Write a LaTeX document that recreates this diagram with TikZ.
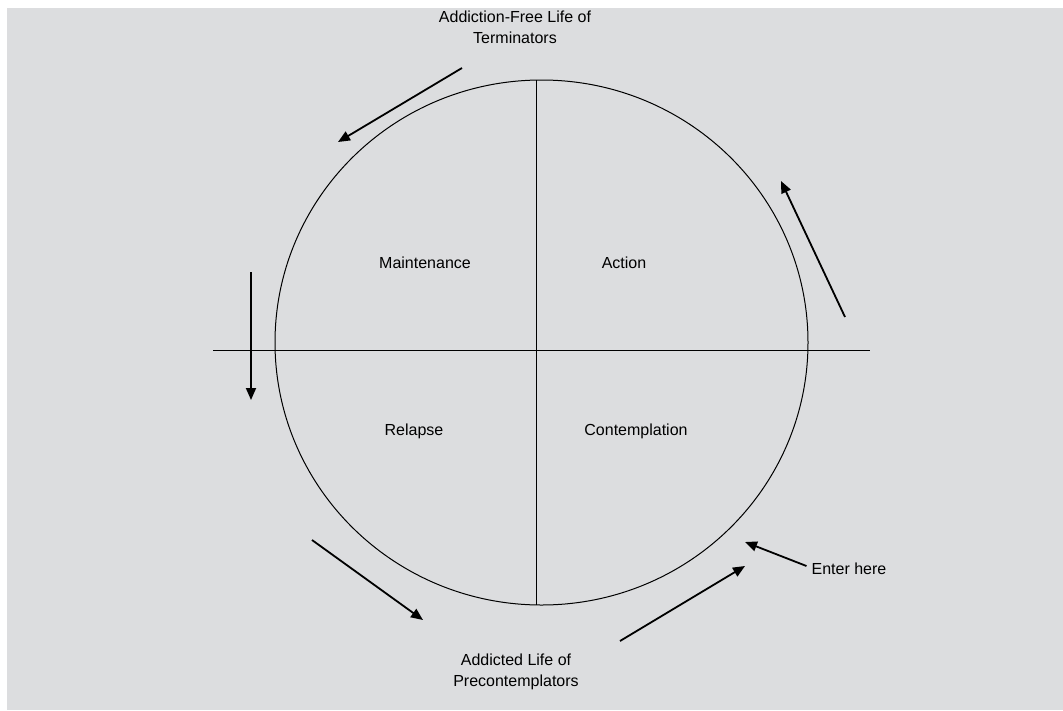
\documentclass[tikz,border=0pt]{standalone}
\usepackage{fontspec}
\setmainfont{Liberation Sans}
\usetikzlibrary{arrows.meta}
\definecolor{panel}{HTML}{DCDDDF}
\tikzset{
	lbl/.style={font=\fontsize{16}{21}\selectfont, align=center, inner sep=0pt},
	cyc/.style={line width=1.8pt, -{Triangle[length=12pt,width=10pt]}},
}
\begin{document}
\begin{tikzpicture}[x=1pt, y=-1pt]
	\useasboundingbox (0, 0) rectangle (1063, 710);
	\fill[white] (0, 0) rectangle (1063, 710);
	\fill[panel] (7, 8) rectangle (1063, 710);

	% wheel and axes
	\draw[line width=1pt] (541.5, 342.5) ellipse [x radius=266.5, y radius=262.5];
	\coordinate (hl) at (213, 350);
	\coordinate (hr) at (870, 350);
	\coordinate (vt) at (536, 80);
	\coordinate (vb) at (536, 605);
	\draw[line width=1pt] (hl) -- (hr);
	\draw[line width=1pt] (vt) -- (vb);

	% stages
	\draw node[lbl] at (425, 263) (maint) {Maintenance};
	\draw node[lbl] at (624, 263) (action) {Action};
	\draw node[lbl] at (414, 431) (relapse) {Relapse};
	\draw node[lbl] at (636, 431) (contemp) {Contemplation};
	\draw node[lbl] at (515, 27) (free) {Addiction-Free Life of\\Terminators};
	\draw node[lbl] at (516, 672) (addict) {Addicted Life of\\Precontemplators};
	\draw node[lbl] at (849, 569) (enter) {Enter here};

	% arrow ends
	\coordinate (a1s) at (462, 68);   \coordinate (a1e) at (338, 142);
	\coordinate (a2s) at (251, 272);  \coordinate (a2e) at (251, 400);
	\coordinate (a3s) at (312, 540);  \coordinate (a3e) at (423, 620);
	\coordinate (a4s) at (620, 641);  \coordinate (a4e) at (745, 566);
	\coordinate (a5s) at (845, 317);  \coordinate (a5e) at (781, 181);
	\coordinate (a6e) at (745, 542);

	\draw[cyc] (a1s) -- (a1e);
	\draw[cyc] (a2s) -- (a2e);
	\draw[cyc] (a3s) -- (a3e);
	\draw[cyc] (a4s) -- (a4e);
	\draw[cyc] (a5s) -- (a5e);
	\draw[cyc] (enter.west) ++(-5, -3) -- (a6e);
\end{tikzpicture}
\end{document}
